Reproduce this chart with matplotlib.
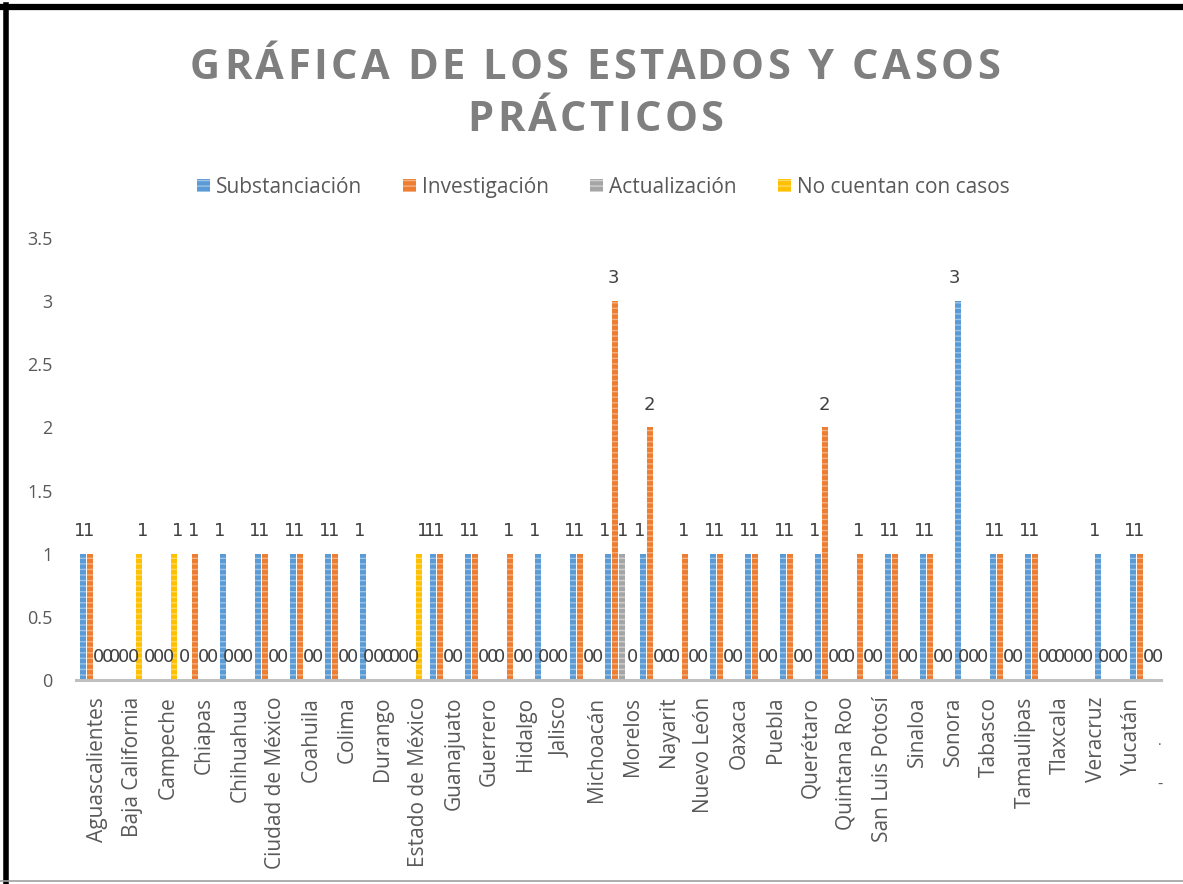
import numpy as np
import matplotlib.pyplot as plt
from matplotlib.lines import Line2D
from matplotlib.patches import Rectangle


ESTADOS = [
    "Aguascalientes", "Baja California", "Campeche", "Chiapas", "Chihuahua",
    "Ciudad de México", "Coahuila", "Colima", "Durango", "Estado de México",
    "Guanajuato", "Guerrero", "Hidalgo", "Jalisco", "Michoacán", "Morelos",
    "Nayarit", "Nuevo León", "Oaxaca", "Puebla", "Querétaro", "Quintana Roo",
    "San Luis Potosí", "Sinaloa", "Sonora", "Tabasco", "Tamaulipas",
    "Tlaxcala", "Veracruz", "Yucatán",
]

# 31 groups of bars are drawn in the original (one more than named states)
SUBSTANCIACION = [1, 0, 0, 0, 1, 1, 1, 1, 1, 0, 1, 1, 0, 1, 1, 1,
                  1, 0, 1, 1, 1, 1, 0, 1, 1, 3, 1, 1, 0, 1, 1]
INVESTIGACION = [1, 0, 0, 1, 0, 1, 1, 1, 0, 0, 1, 1, 1, 0, 1, 3,
                 2, 1, 1, 1, 1, 2, 1, 1, 1, 0, 1, 1, 0, 0, 1]
ACTUALIZACION = [0, 0, 0, 0, 0, 0, 0, 0, 0, 0, 0, 0, 0, 0, 0, 1,
                 0, 0, 0, 0, 0, 0, 0, 0, 0, 0, 0, 0, 0, 0, 0]
SIN_CASOS = [0, 1, 1, 0, 0, 0, 0, 0, 0, 1, 0, 0, 0, 0, 0, 0,
             0, 0, 0, 0, 0, 0, 0, 0, 0, 0, 0, 0, 0, 0, 0]

SERIES = ["Substanciación", "Investigación", "Actualización", "No cuentan con casos"]
COLORS = ["#5B9BD5", "#ED7D31", "#A5A5A5", "#FFC000"]
STRIPES = ["#9DC3E6", "#F4B183", "#D0D0D0", "#FFD966"]
Y_TICKS = [0, 0.5, 1, 1.5, 2, 2.5, 3, 3.5]

TITLE_1 = "GRÁFICA DE LOS ESTADOS Y CASOS"
TITLE_2 = "PRÁCTICOS"

W, H = 1183, 884


def spaced_title(fig, text, x_center, y_base, spacing, **kw):
    # the original title is letter-spaced; place glyphs one by one
    renderer = fig.canvas.get_renderer()

    def width(s):
        t = fig.text(0, 0, s, **kw)
        w = t.get_window_extent(renderer).width
        t.remove()
        return w

    ref = width("H")
    starts = [width(text[:i] + "H") - ref if i else 0.0 for i in range(len(text))]
    total = width(text) + spacing * (len(text) - 1)
    x0 = x_center - total / 2
    for i, ch in enumerate(text):
        if ch == " ":
            continue
        fig.text((x0 + starts[i] + i * spacing) / W, y_base / H, ch,
                 ha="left", va="baseline", **kw)


def legend_row(fig, x_start, y_base):
    # entries laid out one after another, all on the same text baseline
    renderer = fig.canvas.get_renderer()
    x = x_start
    for name, color, stripe in zip(SERIES, COLORS, STRIPES):
        fig.add_artist(Rectangle((x / W, (y_base + 1) / H), 13 / W, 13 / H,
                                 transform=fig.transFigure, facecolor=color,
                                 edgecolor=stripe, linewidth=0, hatch="---"))
        t = fig.text((x + 19) / W, y_base / H, name, fontsize=15,
                     color="#595959", ha="left", va="baseline")
        x = x + 19 + t.get_window_extent(renderer).width + 41


def main():
    plt.rcParams["font.family"] = ["Open Sans", "DejaVu Sans"]
    plt.rcParams["hatch.linewidth"] = 1.0

    fig = plt.figure(figsize=(W / 100, H / 100), dpi=100)
    ax = fig.add_axes([76 / W, 1 - 680 / H, 1085 / W, 442 / H])

    values = [SUBSTANCIACION, INVESTIGACION, ACTUALIZACION, SIN_CASOS]
    n = len(SUBSTANCIACION)
    x = np.arange(n)
    width = 0.2
    offsets = (np.arange(4) - 1.5) * width

    for k, (vals, off, color, stripe, name) in enumerate(
            zip(values, offsets, COLORS, STRIPES, SERIES)):
        ax.bar(x + off, vals, width * 0.92, color=color, edgecolor=stripe,
               linewidth=0, hatch="---", label=name)
        # labels sit a touch wider apart than the slim bars
        for xi, v in zip(x + off, vals):
            ax.annotate(f"{v:g}", (xi, v), xytext=((k - 1.5) * 1.6, 10),
                        textcoords="offset points", ha="center", va="bottom",
                        fontsize=13, color="#404040", family="DejaVu Sans")

    ax.set_xlim(-0.5, n - 0.5)
    ax.set_ylim(0, 3.5)
    ax.set_yticks(Y_TICKS)
    ax.set_yticklabels([f"{t:g}" for t in Y_TICKS])

    # category labels are spread a little wider than the bar groups in the original
    tick_pos = np.linspace(0.1, 29.67, len(ESTADOS))
    ax.set_xticks(tick_pos)
    ax.set_xticklabels(ESTADOS, rotation=90, ha="center", va="top")

    ax.tick_params(axis="y", length=0, pad=17, labelsize=13, labelcolor="#595959")
    ax.tick_params(axis="x", length=0, pad=12, labelsize=15, labelcolor="#595959")
    for side in ["top", "right", "left"]:
        ax.spines[side].set_visible(False)
    ax.spines["bottom"].set_color("#BFBFBF")
    ax.spines["bottom"].set_linewidth(2.2)

    # stray marks of the unnamed last category
    tr = ax.get_xaxis_transform()
    ax.text(30.47, -0.14, ".", transform=tr, ha="center", va="center",
            fontsize=10, color="#595959", clip_on=False)
    ax.text(30.47, -0.238, "-", transform=tr, ha="center", va="center",
            fontsize=12, color="#595959", clip_on=False)

    title_kw = dict(fontsize=30, fontweight="bold", color="#7F7F7F")
    spaced_title(fig, TITLE_1, 595, H - 79, 3.5, **title_kw)
    spaced_title(fig, TITLE_2, 595, H - 131, 3.5, **title_kw)

    legend_row(fig, 197, H - 193)

    # screenshot frame
    fig.add_artist(Line2D([0, 1], [1 - 7 / H, 1 - 7 / H], color="black", linewidth=4.5))
    fig.add_artist(Line2D([5.5 / W, 5.5 / W], [0, 1 - 5 / H], color="black", linewidth=4))
    fig.add_artist(Line2D([0, 1], [1 - 881 / H, 1 - 881 / H], color="#A0A0A0", linewidth=1.2))

    fig.savefig("out.png", dpi=100)


if __name__ == "__main__":
    main()
